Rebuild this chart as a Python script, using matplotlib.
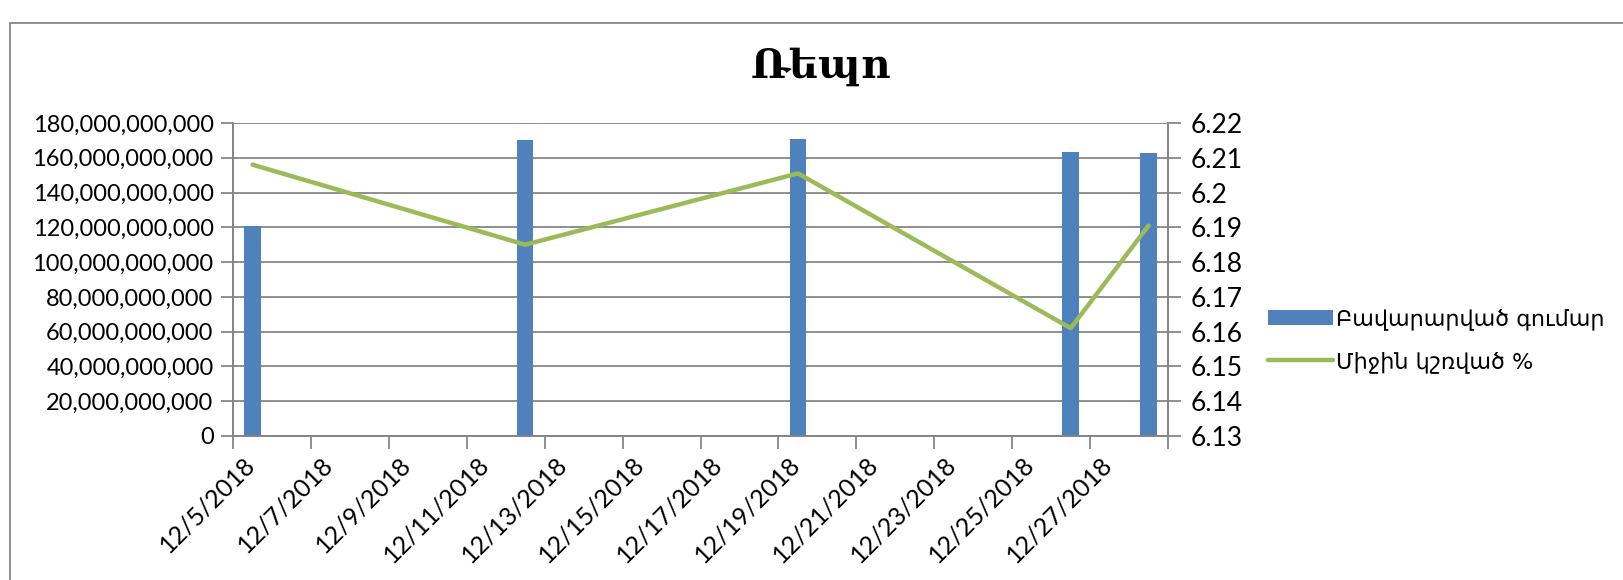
import numpy as np
import pandas as pd
import matplotlib
matplotlib.use('Agg')
import matplotlib.pyplot as plt
import matplotlib.dates as mdates
import matplotlib.ticker as mticker
import matplotlib.transforms as mtransforms
from matplotlib.patches import Rectangle

# data
dates = ['2018-12-05', '2018-12-12', '2018-12-19', '2018-12-26', '2018-12-28']
amount = [121e9, 170e9, 171e9, 163.5e9, 163e9]   # Բավարարված գումար
rate = [6.208, 6.185, 6.2055, 6.161, 6.1905]     # Միջին կշռված %

title = 'Ռեպո'
bar_label = 'Բավարարված գումար'
line_label = 'Միջին կշռված %'

plt.rcParams['font.family'] = ['Lato', 'DejaVu Sans']

d = pd.to_datetime(dates)
x = mdates.date2num(d) + 0.5   # excel puts the point in the middle of the day

fig = plt.figure(figsize=(16.23, 5.8), dpi=100)
ax = fig.add_axes([0.1436, 0.2483, 0.5761, 0.5397])
ax2 = ax.twinx()

gray = '#868686'
ax.bar(x, amount, width=0.42, color='#4F81BD', label=bar_label, zorder=3)
ax2.plot(x, rate, color='#9BBB59', lw=3.2, label=line_label, solid_capstyle='round', zorder=4)

ax.set_ylim(0, 180e9)
ax.yaxis.set_major_locator(mticker.MultipleLocator(20e9))
ax.yaxis.set_major_formatter(mticker.FuncFormatter(lambda v, p: f'{v:,.0f}'))
ax2.set_ylim(6.13, 6.22)
ax2.set_yticks(np.round(np.arange(6.13, 6.2201, 0.01), 2))
ax2.yaxis.set_major_formatter(mticker.FuncFormatter(lambda v, p: f'{v:g}'))

start = mdates.date2num(pd.Timestamp('2018-12-05'))
end = mdates.date2num(pd.Timestamp('2018-12-29'))
ax.set_xlim(start, end)
ticks = np.arange(start, end + 0.1, 2)
ax.set_xticks(ticks)
labels = [f'{t.month}/{t.day}/{t.year}' for t in mdates.num2date(ticks)]
labels[-1] = ''
ax.set_xticklabels(labels, rotation=45, ha='right', rotation_mode='anchor')

ax.grid(axis='y', color=gray, lw=1.3, zorder=0)
ax.set_axisbelow(True)
for a in (ax, ax2):
    a.spines['top'].set_visible(False)
    for s in ('left', 'right', 'bottom'):
        a.spines[s].set_color(gray)
        a.spines[s].set_linewidth(1.3)
    a.tick_params(axis='both', colors=gray, labelcolor='black', labelsize=17,
                  length=9, width=1.3, direction='out')
ax.tick_params(axis='x', pad=3, labelsize=18)
ax.tick_params(axis='y', pad=5)
ax2.tick_params(axis='y', pad=7, labelsize=19)

# excel sets the slanted labels a bit right of the tick
shift = mtransforms.ScaledTranslation(0.10, 0, fig.dpi_scale_trans)
for lab in ax.get_xticklabels():
    lab.set_transform(lab.get_transform() + shift)

fig.text(0.506, 0.885, title, ha='center', va='center', fontsize=29,
         family=['DejaVu Serif'], fontweight='bold')

h1, l1 = ax.get_legend_handles_labels()
h2, l2 = ax2.get_legend_handles_labels()
fig.legend(h1 + h2, l1 + l2, loc='center left', bbox_to_anchor=(0.776, 0.413),
           frameon=False, handlelength=2.9, handleheight=0.65,
           labelspacing=0.95, handletextpad=0.15, borderaxespad=0,
           prop={'family': ['DejaVu Sans'], 'size': 16})

fig.patches.append(Rectangle((10 / 1623, -0.1), 1.2, 1.1 - 23 / 580, transform=fig.transFigure,
                             fill=False, edgecolor=gray, lw=1.3))

fig.savefig('out.png', dpi=100)
